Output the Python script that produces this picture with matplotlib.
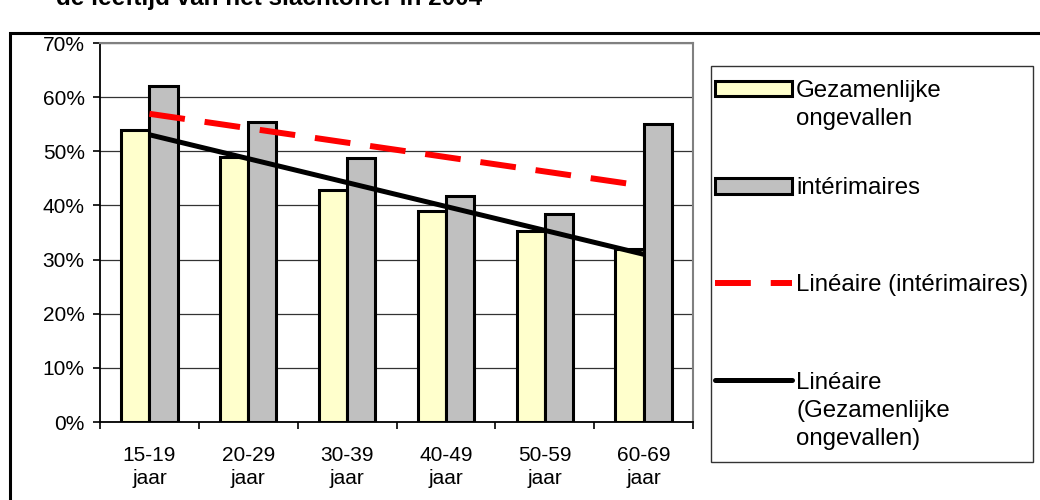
import numpy as np
import matplotlib
matplotlib.use("Agg")
import matplotlib.pyplot as plt
from matplotlib.patches import Patch, Rectangle
from matplotlib.lines import Line2D

plt.rcParams["font.family"] = ["Liberation Sans", "DejaVu Sans"]

# data (percent)
categories = ["15-19\njaar", "20-29\njaar", "30-39\njaar", "40-49\njaar", "50-59\njaar", "60-69\njaar"]
gezamenlijk = [53.9, 49.0, 42.9, 39.0, 35.3, 32.0]
interim = [62.1, 55.4, 48.8, 41.8, 38.5, 55.0]
yticks = [0, 10, 20, 30, 40, 50, 60, 70]

W, H = 1040, 500
fig = plt.figure(figsize=(W / 100, H / 100), dpi=100)
ax = fig.add_axes([100 / W, 78 / H, 593 / W, 379 / H])

x = np.arange(len(categories))
bw = 1 / 3.5

ax.bar(x - bw / 2, gezamenlijk, bw, color="#FFFFCC", edgecolor="black", linewidth=2.2, zorder=2)
ax.bar(x + bw / 2, interim, bw, color="#C0C0C0", edgecolor="black", linewidth=2.2, zorder=2)

# linear trend lines
p_int = np.polyfit(x, interim, 1)
p_gez = np.polyfit(x, gezamenlijk, 1)
ax.plot(x, np.polyval(p_int, x), color="#FF0000", linewidth=4.3,
        linestyle=(0, (36 / 6, 20 / 6)), solid_capstyle="butt", dash_capstyle="butt", zorder=4)
ax.plot(x, np.polyval(p_gez, x), color="black", linewidth=3.6, solid_capstyle="butt", zorder=4)

ax.set_xlim(-0.5, len(categories) - 0.5)
ax.set_ylim(0, 70)
ax.set_yticks(yticks)
ax.set_yticklabels([f"{v}%" for v in yticks])
ax.set_xticks(x)
ax.set_xticklabels(categories, linespacing=1.3)
ax.set_xticks(np.arange(-0.5, len(categories)), minor=True)
ax.tick_params(axis="x", which="major", length=0, pad=17, labelsize=15)
ax.tick_params(axis="x", which="minor", length=5, width=1.2, direction="out")
ax.tick_params(axis="y", length=5, width=1.2, direction="out", pad=6, labelsize=15)

ax.yaxis.grid(True, color="#333333", linewidth=0.9)
ax.set_axisbelow(True)
for s in ["left", "bottom"]:
    ax.spines[s].set_color("black")
    ax.spines[s].set_linewidth(1.3)
for s in ["top", "right"]:
    ax.spines[s].set_color("#808080")
    ax.spines[s].set_linewidth(1.5)

# legend
handles = [
    Patch(facecolor="#FFFFCC", edgecolor="black", linewidth=2.2),
    Patch(facecolor="#C0C0C0", edgecolor="black", linewidth=2.2),
    Line2D([], [], color="#FF0000", linewidth=4.3, linestyle=(0, (36 / 6, 20 / 6)), dash_capstyle="butt"),
    Line2D([], [], color="black", linewidth=3.6, solid_capstyle="round"),
]
labels = ["Gezamenlijke", "intérimaires", "Linéaire (intérimaires)", "Linéaire"]
fs = 17.3
fpx = fs / 0.72
leg = ax.legend(handles, labels, loc="upper left", bbox_to_anchor=(715 / W, 1 - 80 / H),
                bbox_transform=fig.transFigure, frameon=False, borderaxespad=0, borderpad=0,
                fontsize=fs, handlelength=77 / fpx, handleheight=15 / fpx,
                handletextpad=4 / fpx, labelspacing=3.13)
texts = leg.get_texts()
pitch = 28 * 0.72
ax.annotate("ongevallen", xy=(0, 0), xycoords=texts[0], xytext=(0, -pitch),
            textcoords="offset points", va="bottom", ha="left", fontsize=fs, zorder=10)
ax.annotate("(Gezamenlijke", xy=(0, 0), xycoords=texts[3], xytext=(0, -pitch),
            textcoords="offset points", va="bottom", ha="left", fontsize=fs, zorder=10)
ax.annotate("ongevallen)", xy=(0, 0), xycoords=texts[3], xytext=(0, -2 * pitch),
            textcoords="offset points", va="bottom", ha="left", fontsize=fs, zorder=10)
fig.add_artist(Rectangle((711 / W, 1 - 462 / H), 322 / W, 396 / H, transform=fig.transFigure,
                         fill=False, edgecolor="#333333", linewidth=1.0))

# outer chart frame (cut off on right and bottom)
fig.add_artist(Rectangle((10 / W, -0.2), 1.2, 1.2 - 33 / H, transform=fig.transFigure,
                         fill=False, edgecolor="black", linewidth=2.2))

fig.text(269 / W, 1 - 5 / H, "de leeftijd van het slachtoffer in 2004", ha="center", va="baseline",
         fontsize=17.5, fontweight="bold")

fig.savefig("out.png", dpi=100, facecolor="white")
